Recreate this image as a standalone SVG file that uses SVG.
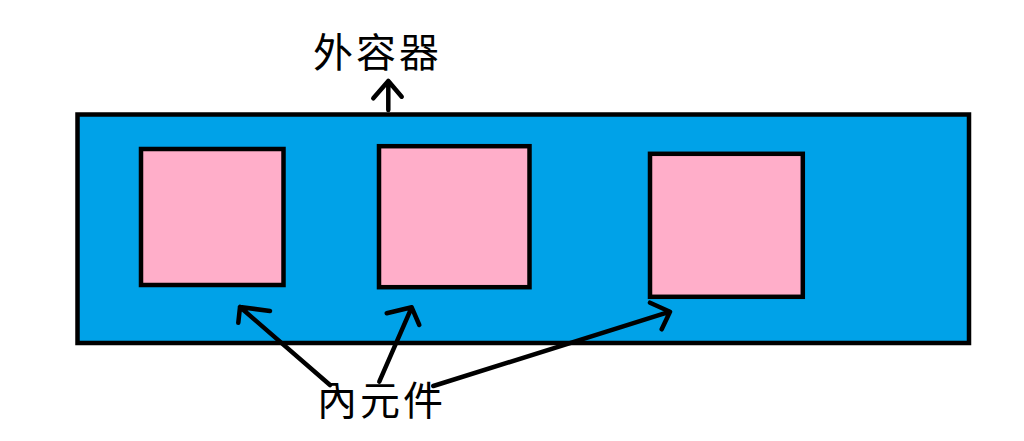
<svg xmlns="http://www.w3.org/2000/svg" width="1024" height="441" viewBox="0 0 1024 441">
<style>
.outer{fill:#00A2E8;stroke:#000;stroke-width:4.5}
.inner{fill:#FFAEC9;stroke:#000;stroke-width:4.5}
.conn{fill:none;stroke:#000;stroke-width:4.5;stroke-linecap:round;stroke-linejoin:round}
.lbl{font-family:"Noto Sans CJK TC","Noto Sans CJK SC",sans-serif;font-size:40px;fill:#000;letter-spacing:3px}
</style>
<rect width="1024" height="441" fill="#fff"/>
<g id="outer-container">
<rect class="outer" x="77.5" y="114.5" width="891.5" height="228.5"/>
</g>
<g id="inner-1"><rect class="inner" x="141" y="149" width="142.5" height="136"/></g>
<g id="inner-2"><rect class="inner" x="379" y="146.2" width="150.5" height="141"/></g>
<g id="inner-3"><rect class="inner" x="650" y="153.8" width="152.8" height="143"/></g>
<g id="label-outer"><text class="lbl" x="313" y="67">外容器</text></g>
<g id="label-inner"><text class="lbl" x="317" y="415">內元件</text></g>
<g id="connectors">
<path class="conn" d="M388.3,110 L388.3,81 M373.3,98.3 L388.3,81 L401.7,96.7"/>
<path class="conn" d="M330,385 L240,307 M270,311 L240,307 L238.3,322.7"/>
<path class="conn" d="M379.3,381.7 L411.7,307.3 M386.7,313.3 L411.7,307.3 L419.3,325"/>
<path class="conn" d="M433.3,386 L670,311.7 M650,302.7 L670,311.7 L661.7,329.3"/>
</g>
</svg>
